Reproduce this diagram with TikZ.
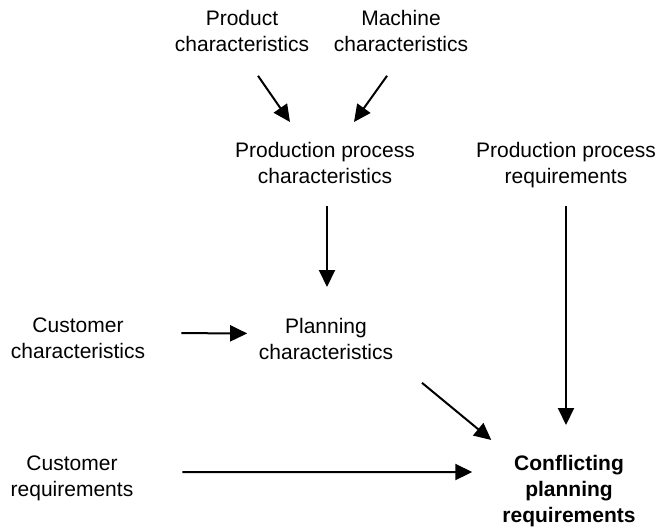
\documentclass[tikz,border=0pt]{standalone}
\usepackage{fontspec}
\setmainfont{Liberation Sans}
\usetikzlibrary{arrows.meta}

\tikzset{
  txt/.style={align=center, inner sep=0pt, anchor=north, font=\fontsize{21pt}{26pt}\selectfont},
  flow/.style={-{Triangle[length=17pt,width=16pt]}, line width=2pt}
}

\begin{document}
\begin{tikzpicture}[x=1pt,y=-1pt]

\useasboundingbox (0,0) rectangle (660,527);

\node[txt] (prod) at (242,10.5) {Product\\characteristics};
\node[txt] (mach) at (401,10.5) {Machine\\characteristics};
\node[txt] (ppc) at (325,142) {Production process\\characteristics};
\node[txt] (ppr) at (566,142) {Production process\\requirements};
\node[txt] (cch) at (78,318) {Customer\\characteristics};
\node[txt] (plan) at (326,318) {Planning\\characteristics};
\node[txt] (creq) at (72,455.5) {Customer\\requirements};
\node[txt, font=\fontsize{21pt}{26pt}\selectfont\bfseries] (conf) at (569,455) {Conflicting\\planning\\requirements};

\draw[flow] ([xshift=16pt,yshift=-23.5pt]prod.south) -- ([xshift=-35pt,yshift=20pt]ppc.north);
\draw[flow] ([xshift=-14pt,yshift=-23.5pt]mach.south) -- ([xshift=29pt,yshift=20pt]ppc.north);
\draw[flow] ([xshift=2pt,yshift=-22.5pt]ppc.south) -- ([xshift=1pt,yshift=31pt]plan.north);
\draw[flow] ([xshift=36pt,yshift=5.5pt]cch.east) -- ([xshift=-11.5pt,yshift=5.5pt]plan.west);

\draw[flow] ([yshift=-18pt]ppr.south) -- ([xshift=-3pt,yshift=30pt]conf.north);
\draw[flow] ([xshift=96pt,yshift=-23pt]plan.south) -- ([xshift=-11pt,yshift=15pt]conf.north west);
\draw[flow] ([xshift=49pt,yshift=6pt]creq.east) -- ([xshift=-30pt,yshift=-17pt]conf.north west);

\end{tikzpicture}
\end{document}
